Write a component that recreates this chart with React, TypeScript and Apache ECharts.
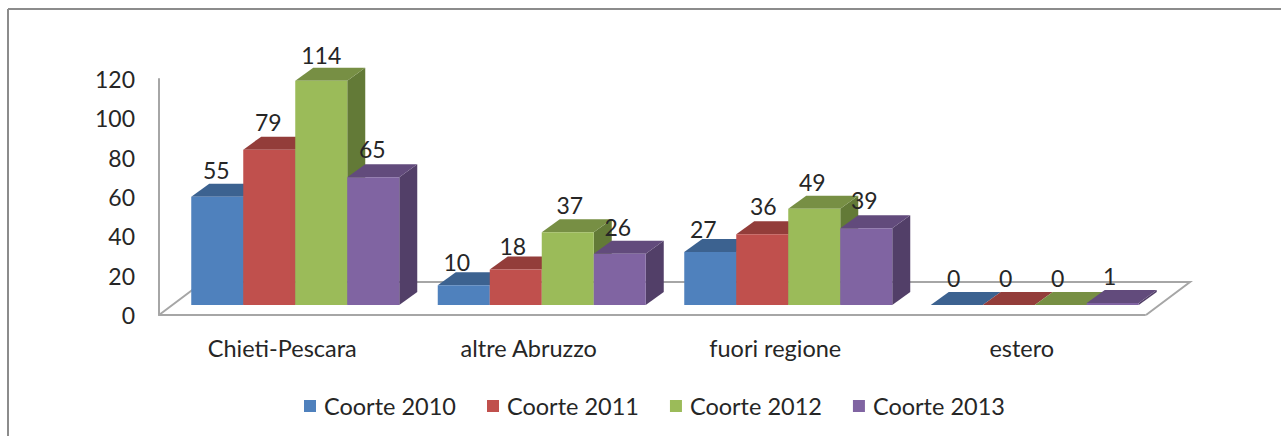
import React, { useEffect, useRef } from "react";
import * as echarts from "echarts";

const categories = ["Chieti-Pescara", "altre Abruzzo", "fuori regione", "estero"];
const seriesNames = ["Coorte 2010", "Coorte 2011", "Coorte 2012", "Coorte 2013"];
const coorte2010 = [55, 10, 27, 0];
const coorte2011 = [79, 18, 36, 0];
const coorte2012 = [114, 37, 49, 0];
const coorte2013 = [65, 26, 39, 1];
const seriesValues = [coorte2010, coorte2011, coorte2012, coorte2013];
const frontColors = ["#4f81bd", "#c0504d", "#9bbb59", "#8064a2"];
const topColors = ["#3c6290", "#933d3a", "#778f44", "#624b7c"];
const sideColors = ["#33537a", "#7d3432", "#637a37", "#523f68"];

// Hand-placed data labels in the reference: small per-label nudges (series x category).
const labelNudgeX = [[0, -6, -6, -2], [0, -2, 2, -2], [1, 3, -1, -2], [0, -1, -1, -2]];
const labelNudgeY = [[-1, 3, 3, -1], [-2, 2, -2, -1], [0, -1, -1, -1], [-2, -1, -2, -1]];

const FONT = "Lato";
const TEXT = "#262626";
const GRAY = "#a6a6a6";
const BAR_W = 52;
const DEPTH_X = 18;
const DEPTH_Y = 13;
const BASE_LIFT = 10;
const GROUP_SHIFT = 13;

function makeRenderItem(s: number) {
  return (_params: any, api: any) => {
    const cat = api.value(0);
    const val = api.value(1);
    const [cx, y0] = api.coord([cat, 0]);
    const [, y1] = api.coord([cat, val]);
    const x0 = cx + GROUP_SHIFT + (s - 2) * BAR_W;
    const x1 = x0 + BAR_W;
    const base = y0 - BASE_LIFT;
    const top = y1 - BASE_LIFT;
    return {
      type: "group",
      children: [
        {
          type: "polygon",
          shape: { points: [[x1, top], [x1 + DEPTH_X, top - DEPTH_Y], [x1 + DEPTH_X, base - DEPTH_Y], [x1, base]] },
          style: { fill: sideColors[s] },
        },
        {
          type: "polygon",
          shape: { points: [[x0, top], [x0 + DEPTH_X, top - DEPTH_Y], [x1 + DEPTH_X, top - DEPTH_Y], [x1, top]] },
          style: { fill: topColors[s] },
        },
        {
          type: "rect",
          shape: { x: x0, y: top, width: BAR_W, height: base - top },
          style: { fill: frontColors[s] },
        },
        {
          type: "text",
          style: {
            text: String(val),
            x: (x0 + x1) / 2 - 1 + labelNudgeX[s][cat],
            y: top - 26 + labelNudgeY[s][cat],
            align: "center",
            verticalAlign: "middle",
            fontFamily: FONT,
            fontSize: 23,
            fill: TEXT,
          },
        },
      ],
    };
  };
}

export default function App() {
  const ref = useRef<HTMLDivElement>(null);
  useEffect(() => {
    const chart = echarts.init(ref.current!, null, { renderer: "svg" });
    chart.setOption({
      animation: false,
      backgroundColor: "#ffffff",
      grid: { left: 159, top: 79, width: 986, height: 236 },
      textStyle: { fontFamily: FONT },
      legend: {
        left: 304,
        top: 394,
        padding: 0,
        icon: "rect",
        itemWidth: 12,
        itemHeight: 12,
        itemGap: 31,
        selectedMode: false,
        data: seriesNames,
        textStyle: { fontFamily: FONT, fontSize: 23.5, color: TEXT, padding: [0, 0, 0, 3] },
      },
      xAxis: {
        type: "category",
        data: categories,
        axisTick: { show: false },
        axisLine: { lineStyle: { color: GRAY, width: 2 } },
        axisLabel: { fontFamily: FONT, fontSize: 23.5, color: TEXT, margin: 21 },
      },
      yAxis: {
        type: "value",
        min: 0,
        max: 120,
        interval: 20,
        splitLine: { show: false },
        axisTick: { show: false },
        axisLine: { show: true, lineStyle: { color: GRAY, width: 2 } },
        axisLabel: { fontFamily: FONT, fontSize: 23, color: TEXT, margin: 24 },
      },
      graphic: [
        { type: "line", shape: { x1: 8, y1: 9, x2: 1281, y2: 9 }, style: { stroke: "#8c8c8c", lineWidth: 2 } },
        { type: "line", shape: { x1: 8, y1: 9, x2: 8, y2: 436 }, style: { stroke: "#8c8c8c", lineWidth: 2 } },
        {
          type: "polyline",
          z: -1,
          shape: { points: [[159, 315], [203, 282], [1190, 282], [1146, 315]] },
          style: { stroke: GRAY, lineWidth: 2, fill: "none" },
        },
      ],
      series: seriesNames.map((name, s) => ({
        type: "custom",
        name,
        clip: false,
        itemStyle: { color: frontColors[s] },
        encode: { x: 0, y: 1 },
        renderItem: makeRenderItem(s),
        data: seriesValues[s].map((v, i) => [i, v]),
      })),
    });
    return () => chart.dispose();
  }, []);
  return <div ref={ref} style={{ position: "absolute", left: 0, top: 0, width: 1281, height: 436 }} />;
}
